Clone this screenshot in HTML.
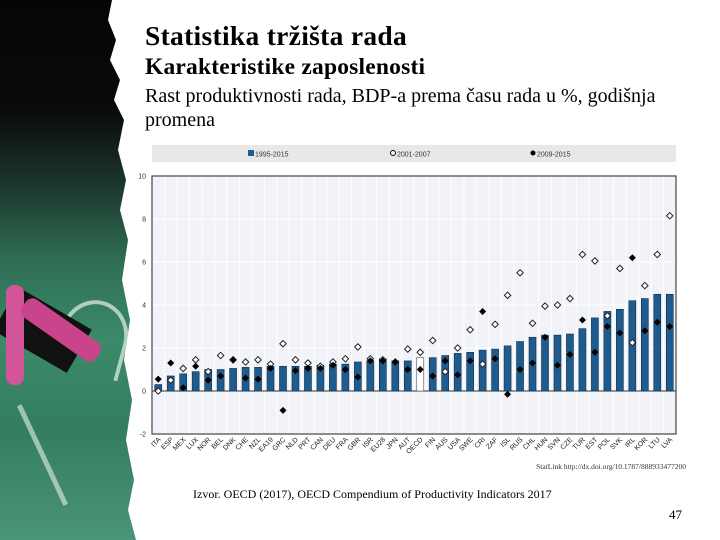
<!DOCTYPE html>
<html><head><meta charset="utf-8">
<style>
body{margin:0;width:720px;height:540px;overflow:hidden;background:#fff;position:relative;font-family:"Liberation Serif",serif}
.t{position:absolute;color:#000;white-space:nowrap}
</style></head><body>
<div style="position:absolute;left:0;top:0;width:140px;height:540px;
background:linear-gradient(180deg,#050505 0px,#0a0a0a 110px,#1d3a2e 190px,#2f6e55 260px,#3b8a6a 340px,#357d60 430px,#4a9478 540px);
clip-path:polygon(0 0,112px 0,108px 20px,116px 40px,110px 60px,120px 80px,114px 100px,124px 120px,118px 150px,126px 180px,120px 210px,128px 240px,122px 280px,130px 320px,124px 360px,132px 400px,126px 440px,134px 480px,128px 510px,136px 540px,0 540px)">
<div style="position:absolute;left:60px;top:300px;width:60px;height:70px;border:4px solid rgba(230,240,235,0.7);border-radius:50% 50% 0 0;border-bottom:none;transform:rotate(15deg)"></div>
<div style="position:absolute;left:40px;top:400px;width:5px;height:110px;background:rgba(230,240,235,0.6);transform:rotate(-25deg)"></div>
<div style="position:absolute;left:0;top:305px;width:85px;height:50px;background:#111;transform:rotate(30deg)"></div>
<div style="position:absolute;left:6px;top:285px;width:18px;height:100px;background:#d2559a;border-radius:8px"></div>
<div style="position:absolute;left:50px;top:285px;width:22px;height:90px;background:#c8458c;border-radius:8px;transform:rotate(-55deg)"></div>
</div>
<div class="t" style="left:145px;top:20px;font-size:27.5px;font-weight:bold;letter-spacing:0.3px">Statistika tržišta rada</div>
<div class="t" style="left:145px;top:54px;font-size:23.5px;font-weight:bold;letter-spacing:0.2px">Karakteristike zaposlenosti</div>
<div class="t" style="left:145px;top:84px;font-size:20px;line-height:24px">Rast produktivnosti rada, BDP-a prema času rada u %, godišnja<br>promena</div>
<svg id="chart" width="720" height="540" style="position:absolute;left:0;top:0" font-family="Liberation Sans, sans-serif"></svg>
<div class="t" style="left:193px;top:487px;font-size:12px">Izvor. OECD (2017), OECD Compendium of Productivity Indicators 2017</div>
<div class="t" style="left:669px;top:507px;font-size:13px">47</div>
<script>
const categories=["ITA","ESP","MEX","LUX","NOR","BEL","DNK","CHE","NZL","EA19","GRC","NLD","PRT","CAN","DEU","FRA","GBR","ISR","EU28","JPN","AUT","OECD","FIN","AUS","USA","SWE","CRI","ZAF","ISL","RUS","CHL","HUN","SVN","CZE","TUR","EST","POL","SVK","IRL","KOR","LTU","LVA"];
const bars1995=[0.3,0.7,0.8,0.9,1.0,1.0,1.05,1.1,1.1,1.15,1.15,1.15,1.15,1.2,1.25,1.25,1.35,1.4,1.5,1.4,1.4,1.55,1.55,1.65,1.75,1.8,1.9,1.95,2.1,2.3,2.5,2.6,2.6,2.65,2.9,3.4,3.7,3.8,4.2,4.3,4.5,4.5];
const open2001=[0.0,0.5,1.05,1.45,0.9,1.65,1.45,1.35,1.45,1.25,2.2,1.45,1.3,1.15,1.35,1.5,2.05,1.5,1.45,1.35,1.95,1.8,2.35,0.9,2.0,2.85,1.25,3.1,4.45,5.5,3.15,3.95,4.0,4.3,6.35,6.05,3.5,5.7,2.25,4.9,6.35,8.15];
const filled2009=[0.55,1.3,0.15,1.15,0.5,0.7,1.45,0.6,0.55,1.05,-0.9,0.95,1.05,1.05,1.2,1.0,0.65,1.4,1.4,1.35,1.0,1.0,0.7,1.4,0.75,1.4,3.7,1.5,-0.15,1.0,1.3,2.5,1.2,1.7,3.3,1.8,3.0,2.7,6.2,2.8,3.2,3.0];
const yTicks=[-2,0,2,4,6,8,10];
const legendLabels=["1995-2015","2001-2007","2009-2015"];
const svg=document.getElementById('chart');const NS='http://www.w3.org/2000/svg';
function mk(t,a,p){const e=document.createElementNS(NS,t);for(const k in a)e.setAttribute(k,a[k]);(p||svg).appendChild(e);return e;}
const L=152,R=676,T=176,B=434,yMin=-2,yMax=10;
const y=v=>B-(v-yMin)/(yMax-yMin)*(B-T);
const step=(R-L)/categories.length;
const x=i=>L+step*(i+0.5);
let e=mk('rect',{x:152,y:145,width:524,height:17,fill:'#e8e8e8'});

const lx=[255,397,537];
legendLabels.forEach((s,i)=>{
 let m;
 if(i==0)m=mk('rect',{x:lx[i]-7,y:150,width:6,height:6,fill:'#1f5b8c'});
 else if(i==1)m=mk('circle',{cx:lx[i]-4,cy:153,r:2.5,fill:'#fff',stroke:'#000','stroke-width':1});
 else m=mk('circle',{cx:lx[i]-4,cy:153,r:2.5,fill:'#000'});
 
 const t=mk('text',{x:lx[i],y:156.5,'font-size':7,fill:'#333'});t.textContent=s;
 
});
e=mk('rect',{x:L,y:T,width:R-L,height:B-T,fill:'#f1f3f8',stroke:'none'});

categories.forEach((c,i)=>{const g=mk('line',{x1:L+step*i,x2:L+step*i,y1:T,y2:B,stroke:'#fff','stroke-width':1});
});
yTicks.forEach(v=>{const g=mk('line',{x1:L,x2:R,y1:y(v),y2:y(v),stroke:v==0?'#333':'#fff','stroke-width':1});

const t=mk('text',{x:146,y:y(v)+2.5,'font-size':7,'text-anchor':'end',fill:'#333'});t.textContent=v;
});
e=mk('rect',{x:L,y:T,width:R-L,height:B-T,fill:'none',stroke:'#444','stroke-width':1.2});

categories.forEach((c,i)=>{
 const w=7,v=bars1995[i];
 const b=mk('rect',{x:x(i)-w/2,y:Math.min(y(v),y(0)),width:w,height:Math.abs(y(v)-y(0)),fill:c=='OECD'?'#fff':'#1f5b8c',stroke:c=='OECD'?'#555':'#0d2f4f','stroke-width':0.6});
 
});
categories.forEach((c,i)=>{
 const o=mk('path',{d:`M${x(i)},${y(open2001[i])-3.2}l3.2,3.2l-3.2,3.2l-3.2,-3.2z`,fill:'#fff',stroke:'#222','stroke-width':1});
 
 const f=mk('path',{d:`M${x(i)},${y(filled2009[i])-3.5}l3.5,3.5l-3.5,3.5l-3.5,-3.5z`,fill:'#000'});
 
 const t=mk('text',{x:x(i)+3,y:440,'font-size':7,'text-anchor':'end',fill:'#222',transform:`rotate(-45 ${x(i)+3} 440)`});t.textContent=c;
 
});
e=mk('text',{x:686,y:469,'font-size':7.5,'text-anchor':'end',fill:'#333','font-family':'Liberation Serif, serif'});
e.textContent='StatLink  http://dx.doi.org/10.1787/888933477200';

</script>
</body></html>
